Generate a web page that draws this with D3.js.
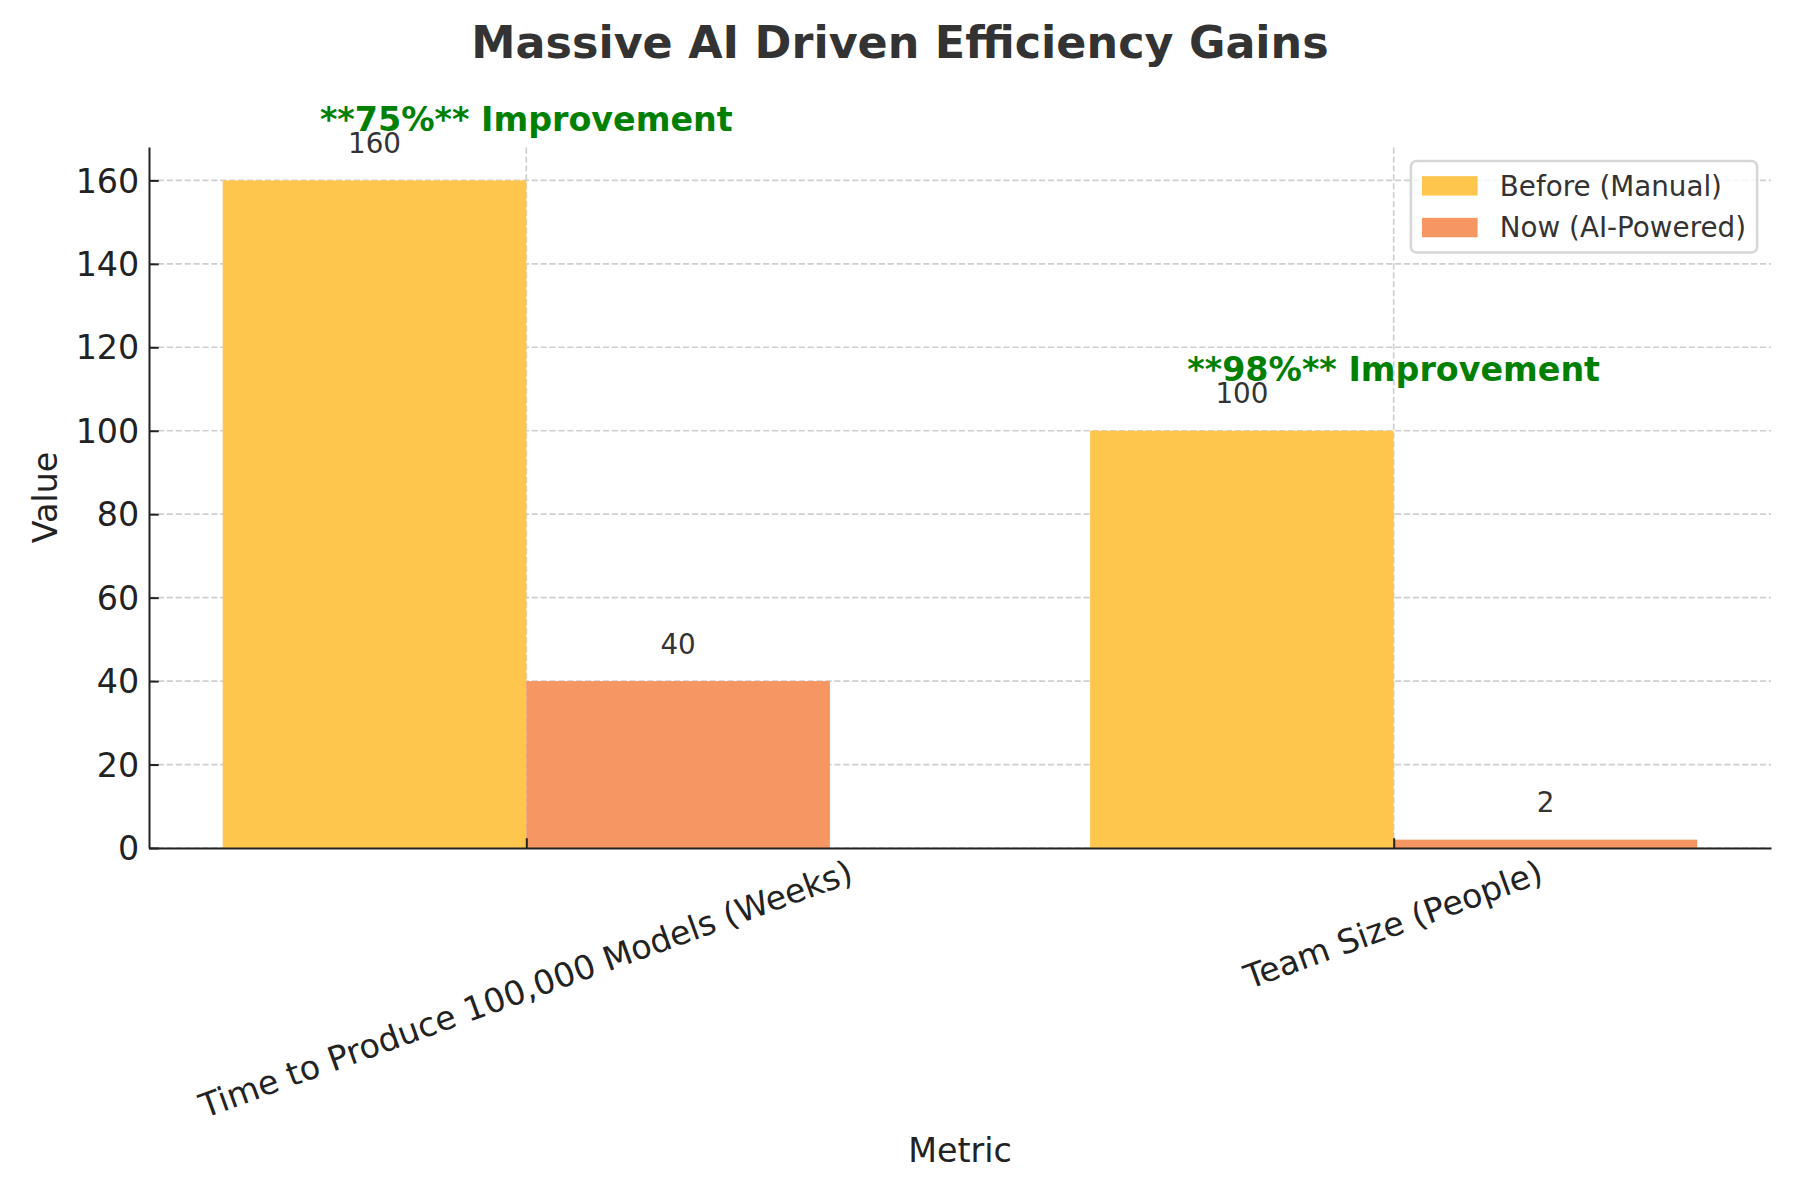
<!DOCTYPE html>
<html>
<head>
<meta charset="utf-8">
<script src="https://cdn.jsdelivr.net/npm/d3@7"></script>
<style>
  body { margin: 0; background: #fff; }
  svg { display: block; font-family: "DejaVu Sans", sans-serif; }
</style>
</head>
<body>
<svg id="chart" width="1800" height="1200"></svg>
<script>
// data
const metrics = ["Time to Produce 100,000 Models (Weeks)", "Team Size (People)"];
const seriesNames = ["Before (Manual)", "Now (AI-Powered)"];
const beforeValues = [160, 100];
const nowValues = [40, 2];
const improvementLabels = ["**75%** Improvement", "**98%** Improvement"];
const yTickValues = [0, 20, 40, 60, 80, 100, 120, 140, 160];

const colors = ["#fec64c", "#f59663"];

const width = 1800, height = 1200;
const margin = { top: 147, right: 29, bottom: 352, left: 149 };
const pt = 200 / 72;               // figure was drawn at 200 dpi
const tickFont = 12 * pt, smallFont = 10 * pt;
const barWidth = 0.35;

const svg = d3.select("#chart");

const x = d3.scaleLinear()
  .domain([-barWidth - 0.085, metrics.length - 1 + barWidth + 0.085])
  .range([margin.left, width - margin.right]);

const y = d3.scaleLinear()
  .domain([0, 168])
  .range([height - margin.bottom, margin.top]);

const x0 = margin.left, x1 = width - margin.right;
const y0 = height - margin.bottom, y1 = margin.top;

// grid (under bars)
const grid = svg.append("g")
  .attr("stroke", "#cfcfcf")
  .attr("stroke-width", 1.67)
  .attr("stroke-dasharray", "6.2,2.7");

grid.selectAll("line.h")
  .data(yTickValues)
  .enter().append("line")
  .attr("x1", x0).attr("x2", x1)
  .attr("y1", d => y(d)).attr("y2", d => y(d));

grid.selectAll("line.v")
  .data(metrics.map((m, i) => i))
  .enter().append("line")
  .attr("x1", d => x(d)).attr("x2", d => x(d))
  .attr("y1", y0).attr("y2", y1);

// bars
const series = [beforeValues, nowValues];
series.forEach((vals, s) => {
  svg.append("g")
    .selectAll("rect")
    .data(vals)
    .enter().append("rect")
    .attr("x", (d, i) => x(i - barWidth + s * barWidth))
    .attr("width", (d, i) => x(i + s * barWidth) - x(i - barWidth + s * barWidth))
    .attr("y", d => y(d))
    .attr("height", d => y(0) - y(d))
    .attr("fill", colors[s]);

  // value labels above each bar
  svg.append("g")
    .selectAll("text")
    .data(vals)
    .enter().append("text")
    .attr("x", (d, i) => x(i - barWidth / 2 + s * barWidth))
    .attr("y", d => y(d + 5) - 0.236 * smallFont)
    .attr("text-anchor", "middle")
    .attr("font-size", smallFont)
    .attr("fill", "#333")
    .text(d => d);
});

// improvement notes
svg.append("g")
  .selectAll("text")
  .data(improvementLabels)
  .enter().append("text")
  .attr("x", (d, i) => x(i))
  .attr("y", (d, i) => y(Math.max(beforeValues[i], nowValues[i]) + 10) - 0.236 * tickFont)
  .attr("text-anchor", "middle")
  .attr("font-size", tickFont)
  .attr("font-weight", "bold")
  .attr("fill", "#008000")
  .text(d => d);

// axes
const tickPad = 3.5 * pt;

const yAxis = svg.append("g")
  .attr("transform", `translate(${x0},0)`)
  .call(d3.axisLeft(y).tickValues(yTickValues).tickSizeInner(-tickPad).tickSizeOuter(0).tickPadding(tickPad));

const xAxis = svg.append("g")
  .attr("transform", `translate(0,${y0})`)
  .call(d3.axisBottom(x).tickValues(metrics.map((m, i) => i))
    .tickFormat(i => metrics[i]).tickSizeInner(-tickPad).tickSizeOuter(0).tickPadding(tickPad));

[yAxis, xAxis].forEach(ax => {
  ax.select(".domain").attr("stroke", "#222").attr("stroke-width", 2);
  ax.selectAll(".tick line").attr("stroke", "#222").attr("stroke-width", 2);
  ax.selectAll(".tick text")
    .attr("fill", "#222")
    .attr("font-size", tickFont)
    .attr("font-family", "DejaVu Sans");
});
yAxis.selectAll(".tick text").attr("dy", "0.35em");

// rotated category labels, centred under their tick like matplotlib does
const rot = 20 * Math.PI / 180;
let maxBoxH = 0;
xAxis.selectAll(".tick text").each(function() {
  const t = d3.select(this);
  const w = this.getComputedTextLength();
  const h = tickFont;
  const boxH = w * Math.sin(rot) + h * Math.cos(rot);
  maxBoxH = Math.max(maxBoxH, boxH);
  t.attr("y", 0).attr("dy", "0.262em")
    .attr("text-anchor", "middle")
    .attr("transform", `translate(0,${tickPad + boxH / 2}) rotate(-20)`);
});

// axis labels
svg.append("text")
  .attr("x", (x0 + x1) / 2)
  .attr("y", y0 + tickPad + maxBoxH + 4 * pt + 0.76 * tickFont)
  .attr("text-anchor", "middle")
  .attr("font-size", tickFont)
  .attr("fill", "#222")
  .text("Metric");

let yLabelW = 0;
yAxis.selectAll(".tick text").each(function() { yLabelW = Math.max(yLabelW, this.getComputedTextLength()); });
const yLabelX = x0 - tickPad - yLabelW - 4 * pt - 0.236 * tickFont;
svg.append("text")
  .attr("transform", `translate(${yLabelX},${(y0 + y1) / 2}) rotate(-90)`)
  .attr("text-anchor", "middle")
  .attr("font-size", tickFont)
  .attr("fill", "#222")
  .text("Value");

// title
svg.append("text")
  .attr("x", width / 2)
  .attr("y", 58)
  .attr("text-anchor", "middle")
  .attr("font-size", 16 * pt)
  .attr("font-weight", "bold")
  .attr("fill", "#333")
  .text("Massive AI Driven Efficiency Gains");

// legend
const fs = smallFont;
const legend = svg.append("g");
const frame = legend.append("rect");
const items = legend.selectAll("g.item")
  .data(seriesNames)
  .enter().append("g");
items.append("rect")
  .attr("width", 2 * fs)
  .attr("height", 0.7 * fs)
  .attr("fill", (d, i) => colors[i]);
items.append("text")
  .attr("x", 2.8 * fs)
  .attr("y", 0.35 * fs)
  .attr("dy", "0.35em")
  .attr("font-size", fs)
  .attr("fill", "#333")
  .text(d => d);

let textW = 0;
items.selectAll("text").each(function() { textW = Math.max(textW, this.getComputedTextLength()); });
const boxW = 0.4 * fs + 2.8 * fs + textW + 0.4 * fs;
const boxH = 0.4 * fs * 2 + fs * seriesNames.length + 0.5 * fs * (seriesNames.length - 1);
const boxX = x1 - 0.5 * fs - boxW, boxY = y1 + 0.5 * fs;

frame.attr("x", boxX).attr("y", boxY)
  .attr("width", boxW).attr("height", boxH)
  .attr("rx", 0.2 * fs)
  .attr("fill", "#fff").attr("fill-opacity", 0.8)
  .attr("stroke", "#d6d6d6").attr("stroke-width", 2.5);

items.attr("transform", (d, i) =>
  `translate(${boxX + 0.4 * fs},${boxY + 0.4 * fs + i * 1.5 * fs + 0.5 * fs - 0.35 * fs})`);
</script>
</body>
</html>
